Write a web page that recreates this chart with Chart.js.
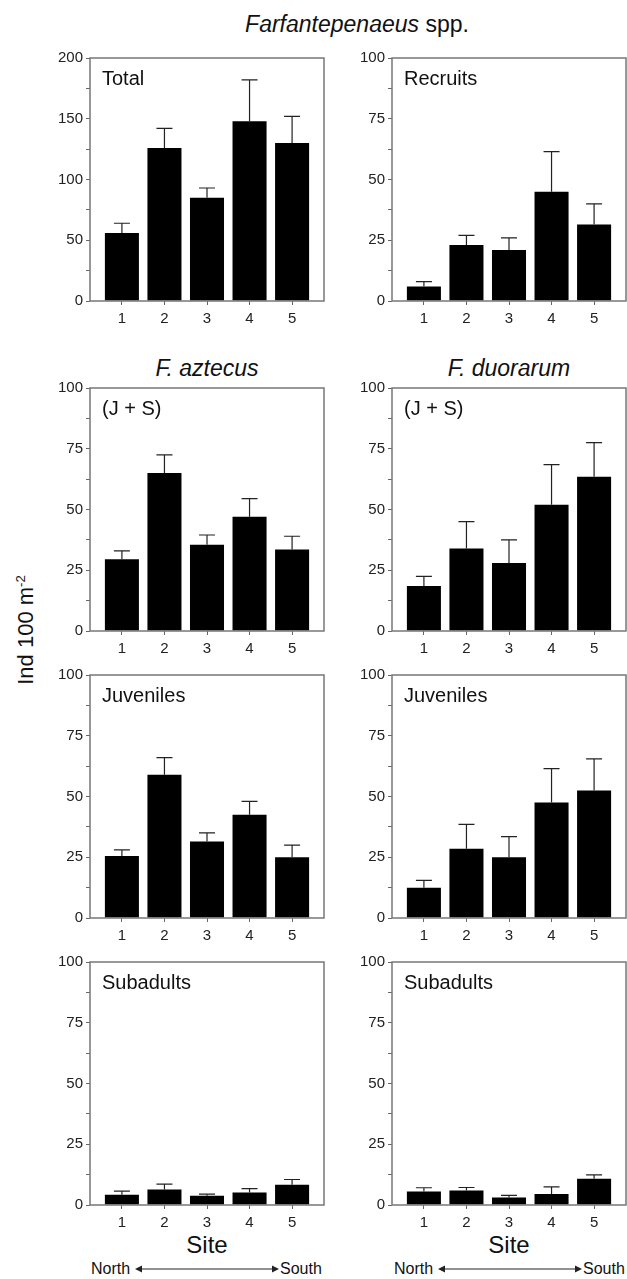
<!DOCTYPE html>
<html>
<head>
<meta charset="utf-8">
<script src="https://cdn.jsdelivr.net/npm/chart.js@4.4.1/dist/chart.umd.min.js"></script>
<style>
  body { margin: 0; background: #fff; width: 627px; height: 1279px; position: relative; overflow: hidden;
         font-family: "Liberation Sans", Arial, sans-serif; color: #111; }
  canvas { position: absolute; }
  .t { position: absolute; white-space: nowrap; transform: translate(-50%, -50%); }
  .ns { position: absolute; font-size: 16px; white-space: nowrap; transform: translateY(-50%); }
  .arrow { position: absolute; }
  sup { font-size: 60%; }
</style>
</head>
<body>

<div class="t" style="left:357px;top:24px;font-size:23px"><i>Farfantepenaeus</i> spp.</div>
<div class="t" style="left:207px;top:368px;font-size:23px"><i>F. aztecus</i></div>
<div class="t" style="left:509px;top:368px;font-size:23px"><i>F. duorarum</i></div>
<div class="t" style="left:26px;top:630px;font-size:22px;transform:translate(-50%,-50%) rotate(-90deg)">Ind 100 m<sup>-2</sup></div>
<div class="t" style="left:207px;top:1245px;font-size:24px">Site</div>
<div class="t" style="left:509px;top:1245px;font-size:24px">Site</div>

<div class="ns" style="left:91px;top:1269px">North</div>
<svg class="arrow" style="left:135px;top:1264px" width="144" height="10"><line x1="4" y1="5" x2="140" y2="5" stroke="#222" stroke-width="1.2"/><polygon points="0,5 7,1.5 7,8.5" fill="#222"/><polygon points="144,5 137,1.5 137,8.5" fill="#222"/></svg>
<div class="ns" style="left:280px;top:1269px">South</div>

<div class="ns" style="left:394px;top:1269px">North</div>
<svg class="arrow" style="left:438px;top:1264px" width="144" height="10"><line x1="4" y1="5" x2="140" y2="5" stroke="#222" stroke-width="1.2"/><polygon points="0,5 7,1.5 7,8.5" fill="#222"/><polygon points="144,5 137,1.5 137,8.5" fill="#222"/></svg>
<div class="ns" style="left:583px;top:1269px">South</div>

<script>
// sites along the coast, north to south
const sites = [1, 2, 3, 4, 5];

// Farfantepenaeus spp.
const totalMean = [56, 126, 85, 148, 130];
const totalSE = [8, 16, 8, 34, 22];
const recruitMean = [6, 23, 21, 45, 31.5];
const recruitSE = [2, 4, 5, 16.5, 8.5];

// F. aztecus
const aztJSMean = [29.5, 65, 35.5, 47, 33.5];
const aztJSSE = [3.5, 7.5, 4, 7.5, 5.5];
const aztJuvMean = [25.5, 59, 31.5, 42.5, 25];
const aztJuvSE = [2.5, 7, 3.5, 5.5, 5];
const aztSubMean = [4.2, 6.4, 3.8, 5.1, 8.3];
const aztSubSE = [1.5, 2.2, 0.7, 1.6, 2.2];

// F. duorarum
const duoJSMean = [18.5, 34, 28, 52, 63.5];
const duoJSSE = [4, 11, 9.5, 16.5, 14];
const duoJuvMean = [12.5, 28.5, 25, 47.5, 52.5];
const duoJuvSE = [3, 10, 8.5, 14, 13];
const duoSubMean = [5.6, 6.0, 3.1, 4.5, 10.8];
const duoSubSE = [1.5, 1.2, 0.9, 3.0, 1.6];

const FONT = '"Liberation Sans", Arial, sans-serif';

// error bars (upper only), plot frame and panel label
const panelDecor = {
  id: 'panelDecor',
  afterDatasetsDraw(chart, args, opts) {
    const { ctx, chartArea: a } = chart;
    const x = chart.scales.x, y = chart.scales.y;
    ctx.save();
    ctx.strokeStyle = '#222';
    ctx.lineWidth = 1.2;
    opts.mean.forEach((m, i) => {
      const px = x.getPixelForValue(sites[i]);
      const y0 = y.getPixelForValue(m);
      const y1 = y.getPixelForValue(m + opts.se[i]);
      ctx.beginPath();
      ctx.moveTo(px, y0);
      ctx.lineTo(px, y1);
      ctx.moveTo(px - 8, y1);
      ctx.lineTo(px + 8, y1);
      ctx.stroke();
    });
    ctx.strokeStyle = '#777';
    ctx.lineWidth = 1.5;
    ctx.strokeRect(a.left, a.top, a.right - a.left, a.bottom - a.top);
    ctx.fillStyle = '#111';
    ctx.font = '20px ' + FONT;
    ctx.textBaseline = 'alphabetic';
    ctx.fillText(opts.label, a.left + 12, a.top + 27);
    ctx.restore();
  }
};

function makePanel(left, top, width, padRight, label, mean, se, max, major) {
  const cv = document.createElement('canvas');
  const height = 10 + 245 + 30;
  cv.width = width;
  cv.height = height;
  cv.style.left = left + 'px';
  cv.style.top = (top - 10) + 'px';
  document.body.appendChild(cv);

  new Chart(cv, {
    type: 'bar',
    data: {
      datasets: [{
        data: sites.map((s, i) => ({ x: s, y: mean[i] })),
        backgroundColor: '#000',
        borderWidth: 0,
        barPercentage: 0.8,
        categoryPercentage: 1
      }]
    },
    options: {
      responsive: false,
      animation: false,
      layout: { padding: { top: 10, right: padRight, left: 0, bottom: 0 } },
      plugins: {
        legend: { display: false },
        tooltip: { enabled: false },
        panelDecor: { label: label, mean: mean, se: se }
      },
      scales: {
        x: {
          type: 'linear',
          min: 0.25,
          max: 5.75,
          offset: false,
          afterBuildTicks: s => { s.ticks = sites.map(v => ({ value: v })); },
          afterFit: s => { s.height = 30; },
          border: { display: false },
          grid: { offset: false, drawOnChartArea: false, drawTicks: true, tickLength: 4, color: '#666' },
          ticks: { font: { size: 15, family: FONT }, color: '#222', padding: 5 }
        },
        y: {
          min: 0,
          max: max,
          afterFit: s => { s.width = 50; },
          border: { display: false },
          grid: { drawOnChartArea: false, drawTicks: true, tickLength: 4, color: '#666' },
          ticks: {
            stepSize: major / 2,
            autoSkip: false,
            font: { size: 15, family: FONT },
            color: '#222',
            padding: 3,
            callback: v => (v % major === 0 ? v : '')
          }
        }
      }
    },
    plugins: [panelDecor]
  });
}

const rowTops = [56, 386, 673, 960];

makePanel(40, rowTops[0], 290, 6, 'Total', totalMean, totalSE, 200, 50);
makePanel(342, rowTops[0], 285, 1, 'Recruits', recruitMean, recruitSE, 100, 25);
makePanel(40, rowTops[1], 290, 6, '(J + S)', aztJSMean, aztJSSE, 100, 25);
makePanel(342, rowTops[1], 285, 1, '(J + S)', duoJSMean, duoJSSE, 100, 25);
makePanel(40, rowTops[2], 290, 6, 'Juveniles', aztJuvMean, aztJuvSE, 100, 25);
makePanel(342, rowTops[2], 285, 1, 'Juveniles', duoJuvMean, duoJuvSE, 100, 25);
makePanel(40, rowTops[3], 290, 6, 'Subadults', aztSubMean, aztSubSE, 100, 25);
makePanel(342, rowTops[3], 285, 1, 'Subadults', duoSubMean, duoSubSE, 100, 25);
</script>
</body>
</html>
